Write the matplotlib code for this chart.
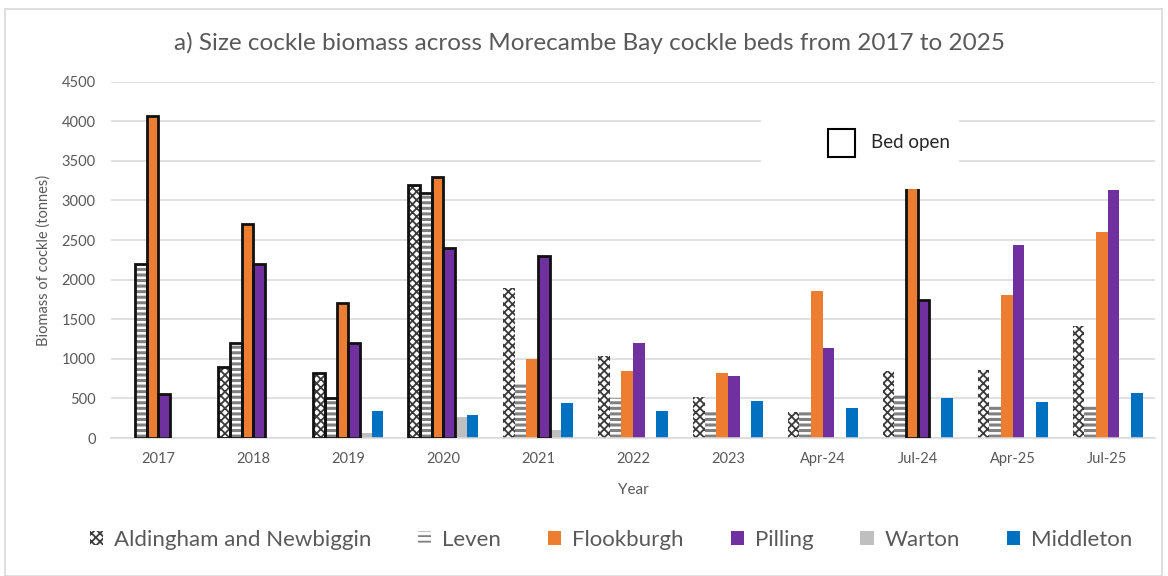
import numpy as np
import matplotlib
matplotlib.use("Agg")
import matplotlib.pyplot as plt
from matplotlib.patches import Patch, Rectangle

plt.rcParams['font.family'] = ['Lato', 'DejaVu Sans']
plt.rcParams['hatch.linewidth'] = 1.0

years = ['2017', '2018', '2019', '2020', '2021', '2022', '2023',
         'Apr-24', 'Jul-24', 'Apr-25', 'Jul-25']

beds = ['Aldingham and Newbiggin', 'Leven', 'Flookburgh', 'Pilling', 'Warton', 'Middleton']

aldingham = [0, 900, 820, 3200, 1890, 1040, 520, 330, 840, 860, 1420]
leven = [2200, 1200, 500, 3100, 700, 500, 350, 350, 560, 400, 420]
flookburgh = [4070, 2700, 1700, 3300, 1000, 850, 820, 1860, 3800, 1800, 2600]
pilling = [560, 2200, 1200, 2400, 2300, 1200, 780, 1140, 1740, 2440, 3130]
warton = [0, 0, 60, 270, 100, 0, 0, 0, 0, 0, 0]
middleton = [0, 0, 340, 290, 440, 340, 470, 380, 500, 460, 570]

# bed open flags (black outline)
open_ald = [0, 1, 1, 1, 0, 0, 0, 0, 0, 0, 0]
open_lev = [1, 1, 1, 1, 0, 0, 0, 0, 0, 0, 0]
open_flk = [1, 1, 1, 1, 0, 0, 0, 0, 1, 0, 0]
open_pil = [1, 1, 1, 1, 1, 0, 0, 0, 1, 0, 0]
open_war = [0] * 11
open_mid = [0] * 11

series = [aldingham, leven, flookburgh, pilling, warton, middleton]
opens = [open_ald, open_lev, open_flk, open_pil, open_war, open_mid]
faces = ['white', 'white', '#ED7D31', '#7030A0', '#BFBFBF', '#0070C0']
hatch_cols = ['#3A3A3A', '#808080', '#ED7D31', '#7030A0', '#BFBFBF', '#0070C0']
hatches = ['xxxx', '---', None, None, None, None]
hatch_lw = [1.3, 2.2, 1, 1, 1, 1]


def set_hlw(p, lw):
    if hasattr(p, 'set_hatch_linewidth'):
        p.set_hatch_linewidth(lw)


fig = plt.figure(figsize=(11.68, 5.76), dpi=100)
ax = fig.add_axes([111/1168, 1 - 438/576, 1044/1168, (438 - 81.7)/576])

x = np.arange(len(years))
w = 0.123
for i in range(6):
    pos = x + (i - 2.5) * w
    vals = np.array(series[i], dtype=float)
    plt.rcParams['hatch.linewidth'] = hatch_lw[i]
    bars = ax.bar(pos, vals, w, color=faces[i], edgecolor=hatch_cols[i], linewidth=0,
                  hatch=hatches[i], zorder=2)
    for b in bars:
        set_hlw(b, hatch_lw[i])
    op = np.array(opens[i], dtype=bool)
    if op.any():
        ax.bar(pos[op], vals[op], w, fill=False, edgecolor='#111111', linewidth=2, zorder=3)

ax.set_xlim(-0.5, len(years) - 0.5)
ax.set_ylim(0, 4500)
ax.set_yticks(np.arange(0, 4501, 500))
ax.set_xticks(x)
ax.set_xticklabels(years)
ax.grid(axis='y', color='#D9D9D9', linewidth=1.1, zorder=0)
ax.set_axisbelow(True)
for s in ['top', 'right', 'left']:
    ax.spines[s].set_visible(False)
ax.spines['bottom'].set_color('#D9D9D9')
ax.spines['bottom'].set_linewidth(1.1)
ax.tick_params(length=0, colors='#595959', labelsize=10.5)
ax.tick_params(axis='x', pad=10)
ax.tick_params(axis='y', pad=11)

# "Bed open" key box
ax.add_patch(Rectangle((0.6226, 0.699), 0.19, 0.255, transform=ax.transAxes,
                       facecolor='white', edgecolor='none', zorder=5))
ax.add_patch(Rectangle((0.6868, 0.7887), 0.0258, 0.0785, transform=ax.transAxes,
                       facecolor='white', edgecolor='black', linewidth=1.5, zorder=6))
ax.text(0.728, 0.828, 'Bed open', transform=ax.transAxes, fontsize=13.5,
        color='#262626', va='center', ha='left', zorder=6)

fig.text(590/1168, 1 - 43/576, 'a) Size cockle biomass across Morecambe Bay cockle beds from 2017 to 2025',
         ha='center', va='center', fontsize=17.5, color='#595959')
fig.text(44/1168, 1 - 260/576, 'Biomass of cockle (tonnes)', rotation=90,
         ha='center', va='center', fontsize=10.5, color='#595959')
fig.text(633/1168, 1 - 490/576, 'Year', ha='center', va='center', fontsize=11, color='#595959')

plt.rcParams['hatch.linewidth'] = 1.3
handles = [Patch(facecolor=faces[i], edgecolor=hatch_cols[i], linewidth=0, hatch=hatches[i])
           for i in range(6)]
for i, h in enumerate(handles):
    set_hlw(h, hatch_lw[i])
leg = fig.legend(handles, beds, loc='center', bbox_to_anchor=(611/1168, 1 - 540/576),
                 ncol=6, frameon=False, fontsize=16, handlelength=0.6, handleheight=0.6,
                 handletextpad=0.5, columnspacing=2.1, labelcolor='#595959')

fig.add_artist(Rectangle((5/1168, 0), 1157/1168, 1 - 9/576, transform=fig.transFigure,
                         facecolor='none', edgecolor='#D9D9D9', linewidth=1.2))

fig.savefig('out.png', dpi=100)
